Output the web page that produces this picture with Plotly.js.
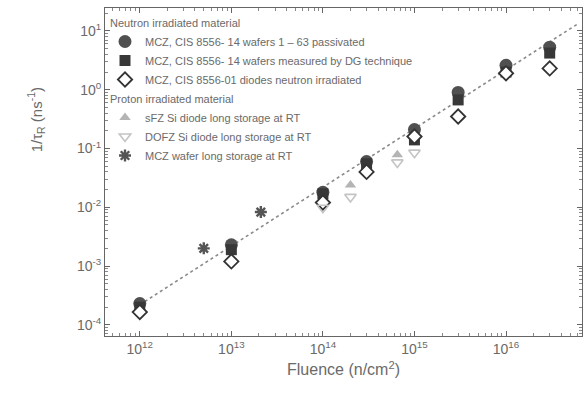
<!DOCTYPE html>
<html>
<head>
<meta charset="utf-8">
<script src="https://cdn.plot.ly/plotly-3.0.1.min.js"></script>
<style>html,body{margin:0;padding:0;background:#fff;}#chart{width:586px;height:408px;}</style>
</head>
<body>
<div id="chart"></div>
<script>
// Neutron irradiated material
const mczPassX = [1e12, 1e13, 1e14, 3e14, 1e15, 3e15, 1e16, 3e16];
const mczPassY = [2.3e-4, 2.3e-3, 0.018, 0.06, 0.21, 0.9, 2.6, 5.3];
const mczDgX = [1e12, 1e13, 1e14, 3e14, 1e15, 3e15, 1e16, 3e16];
const mczDgY = [2.0e-4, 1.9e-3, 0.017, 0.055, 0.14, 0.67, 2.0, 4.2];
const mczDiodeX = [1e12, 1e13, 1e14, 3e14, 1e15, 3e15, 1e16, 3e16];
const mczDiodeY = [1.65e-4, 1.2e-3, 0.012, 0.040, 0.16, 0.35, 1.9, 2.3];
// Proton irradiated material
const sfzX = [2e14, 6.5e14];
const sfzY = [0.024, 0.078];
const dofzX = [1e14, 2e14, 6.5e14, 1e15];
const dofzY = [0.0098, 0.015, 0.058, 0.085];
const mczWaferX = [5e12, 2.1e13];
const mczWaferY = [2.0e-3, 8.3e-3];
// dotted guide line
const fitX = [1e12, 6e16];
const fitY = [2.2e-4, 13];

const names = [
  'MCZ, CIS 8556- 14 wafers 1 \u2013 63 passivated',
  'MCZ, CIS 8556- 14 wafers measured by DG technique',
  'MCZ, CIS 8556-01 diodes neutron irradiated',
  'sFZ Si diode long storage at RT',
  'DOFZ Si diode long storage at RT',
  'MCZ wafer long storage at RT'
];
const groupTitles = ['Neutron irradiated material', 'Proton irradiated material'];

const yTickVals = [1e-4, 1e-3, 1e-2, 1e-1, 1, 10];
const yTickText = ['10<sup>-4</sup>', '10<sup>-3</sup>', '10<sup>-2</sup>', '10<sup>-1</sup>', '10<sup>0</sup>', '10<sup>1</sup>'];
const xTickVals = [1e12, 1e13, 1e14, 1e15, 1e16];
const xTickText = ['10<sup>12</sup>', '10<sup>13</sup>', '10<sup>14</sup>', '10<sup>15</sup>', '10<sup>16</sup>'];

const gtFont = {family: 'Liberation Sans, Arial, sans-serif', size: 11, color: '#6a6a6a'};

const traces = [
  {x: fitX, y: fitY, mode: 'lines', showlegend: false, hoverinfo: 'skip',
   line: {color: '#8a8a8a', width: 1.6, dash: 'dot'}},
  {x: mczPassX, y: mczPassY, mode: 'markers', name: names[0], legendgroup: 'n',
   legendgrouptitle: {text: groupTitles[0], font: gtFont},
   marker: {symbol: 'circle', size: 13, color: '#505050', line: {width: 0}}},
  {x: mczDgX, y: mczDgY, mode: 'markers', name: names[1], legendgroup: 'n',
   marker: {symbol: 'square', size: 11, color: '#383838', line: {width: 0}}},
  {x: mczDiodeX, y: mczDiodeY, mode: 'markers', name: names[2], legendgroup: 'n',
   marker: {symbol: 'diamond', size: 11, color: '#ffffff', line: {width: 1.8, color: '#333'}}},
  {x: sfzX, y: sfzY, mode: 'markers', name: names[3], legendgroup: 'p',
   legendgrouptitle: {text: groupTitles[1], font: gtFont},
   marker: {symbol: 'triangle-up', size: 10, color: '#b4b4b4', line: {width: 0}}},
  {x: dofzX, y: dofzY, mode: 'markers', name: names[4], legendgroup: 'p',
   marker: {symbol: 'triangle-down-open', size: 10, color: '#c4c4c4', line: {width: 1.6, color: '#c4c4c4'}}},
  {x: mczWaferX, y: mczWaferY, mode: 'markers', name: names[5], legendgroup: 'p',
   marker: {symbol: 'asterisk-open', size: 10, color: '#555', line: {width: 2.4, color: '#555'}}}
];

const axisFont = {family: 'Liberation Sans, Arial, sans-serif', size: 14, color: '#6a6a6a'};

const layout = {
  width: 586, height: 408,
  margin: {l: 105, r: 4, t: 8, b: 72},
  paper_bgcolor: '#ffffff', plot_bgcolor: '#ffffff',
  font: {family: 'Liberation Sans, Arial, sans-serif', color: '#6a6a6a'},
  showlegend: true,
  legend: {
    x: 0.0, y: 1, xanchor: 'left', yanchor: 'top',
    bgcolor: 'rgba(0,0,0,0)', borderwidth: 0,
    traceorder: 'grouped', tracegroupgap: 0,
    font: {family: 'Liberation Sans, Arial, sans-serif', size: 11, color: '#6a6a6a'},
    itemwidth: 30
  },
  xaxis: {
    type: 'log', range: [11.62, 16.83],
    tickvals: xTickVals, ticktext: xTickText,
    ticks: 'inside', ticklen: 5, tickcolor: '#666',
    minor: {ticks: 'inside', ticklen: 3, tickcolor: '#888', dtick: 'D1'},
    showline: true, linecolor: '#666', linewidth: 1, mirror: 'allticks',
    showgrid: false, zeroline: false,
    tickfont: axisFont,
    title: {text: 'Fluence (n/cm<sup>2</sup>)', font: {family: 'Liberation Sans, Arial, sans-serif', size: 16, color: '#6a6a6a'}, standoff: 8}
  },
  yaxis: {
    type: 'log', range: [-4.19, 1.39],
    tickvals: yTickVals, ticktext: yTickText,
    ticks: 'inside', ticklen: 5, tickcolor: '#666',
    minor: {ticks: 'inside', ticklen: 3, tickcolor: '#888', dtick: 'D1'},
    showline: true, linecolor: '#666', linewidth: 1, mirror: 'allticks',
    showgrid: false, zeroline: false,
    tickfont: axisFont
  },
  annotations: [{
    text: '1/\u03c4<sub>R</sub> (ns<sup>-1</sup>)', textangle: -90,
    xref: 'paper', yref: 'paper', x: -0.145, y: 0.66,
    xanchor: 'center', yanchor: 'middle', showarrow: false,
    font: {family: 'Liberation Sans, Arial, sans-serif', size: 15, color: '#6a6a6a'}
  }]
};

Plotly.newPlot('chart', traces, layout, {displayModeBar: false, staticPlot: true});
</script>
</body>
</html>
